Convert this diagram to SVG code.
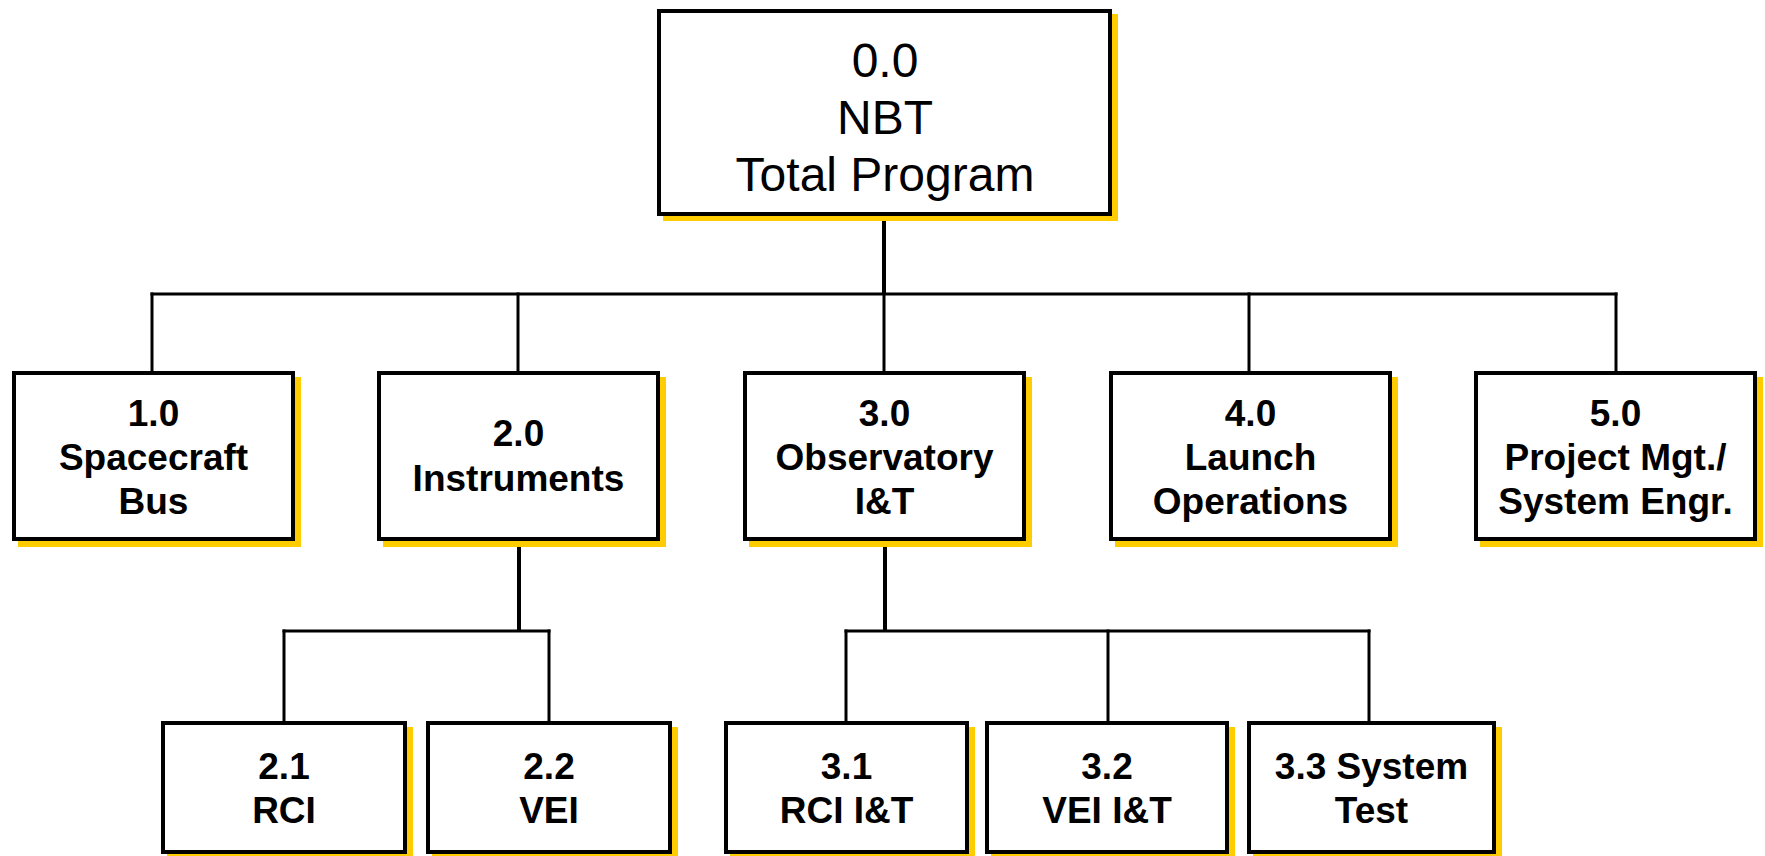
<svg xmlns="http://www.w3.org/2000/svg" width="1765" height="856" viewBox="0 0 1765 856">
<style>
.sh{fill:#FFCC00;stroke:none}
.bx{fill:#fff;stroke:#000;stroke-width:4}
.t0{font-family:"Liberation Sans",Arial,sans-serif;font-size:48px;text-anchor:middle;fill:#000}
.tb{font-family:"Liberation Sans",Arial,sans-serif;font-size:37px;font-weight:bold;text-anchor:middle;fill:#000}
.tc{font-family:"Liberation Sans",Arial,sans-serif;font-size:37px;font-weight:bold;text-anchor:middle;fill:#000}
.ln{stroke:#000;stroke-width:3;fill:none;stroke-linecap:square}
.lt{stroke:#000;stroke-width:4;fill:none}
</style>
<rect width="1765" height="856" fill="#fff"/>
<g id="connectors">
<line class="lt" x1="884" y1="216" x2="884" y2="294"/>
<line class="ln" x1="152" y1="294" x2="1616" y2="294"/>
<line class="ln" x1="152" y1="294" x2="152" y2="371"/>
<line class="ln" x1="518" y1="294" x2="518" y2="371"/>
<line class="ln" x1="884" y1="294" x2="884" y2="371"/>
<line class="ln" x1="1249" y1="294" x2="1249" y2="371"/>
<line class="ln" x1="1616" y1="294" x2="1616" y2="371"/>
<line class="lt" x1="519" y1="541" x2="519" y2="631"/>
<line class="ln" x1="284" y1="631" x2="549" y2="631"/>
<line class="ln" x1="284" y1="631" x2="284" y2="721"/>
<line class="ln" x1="549" y1="631" x2="549" y2="721"/>
<line class="lt" x1="885" y1="541" x2="885" y2="631"/>
<line class="ln" x1="846" y1="631" x2="1369" y2="631"/>
<line class="ln" x1="846" y1="631" x2="846" y2="721"/>
<line class="ln" x1="1108" y1="631" x2="1108" y2="721"/>
<line class="ln" x1="1369" y1="631" x2="1369" y2="721"/>
</g>
<g id="n0">
<rect class="sh" x="663" y="14" width="455" height="207"/>
<rect class="bx" x="659" y="11" width="451" height="203"/>
<text class="t0" x="885" y="77">0.0</text>
<text class="t0" x="885" y="134">NBT</text>
<text class="t0" x="885" y="191">Total Program</text>
</g>
<g id="n1">
<rect class="sh" x="18" y="377" width="283" height="170"/>
<rect class="bx" x="14" y="373" width="279" height="166"/>
<text class="tb" x="153.5" y="426">1.0</text>
<text class="tb" x="153.5" y="470">Spacecraft</text>
<text class="tb" x="153.5" y="514">Bus</text>
</g>
<g id="n2">
<rect class="sh" x="383" y="377" width="283" height="170"/>
<rect class="bx" x="379" y="373" width="279" height="166"/>
<text class="tb" x="518.5" y="446">2.0</text>
<text class="tb" x="518.5" y="491">Instruments</text>
</g>
<g id="n3">
<rect class="sh" x="749" y="377" width="283" height="170"/>
<rect class="bx" x="745" y="373" width="279" height="166"/>
<text class="tb" x="884.5" y="426">3.0</text>
<text class="tb" x="884.5" y="470">Observatory</text>
<text class="tb" x="884.5" y="514">I&amp;T</text>
</g>
<g id="n4">
<rect class="sh" x="1115" y="377" width="283" height="170"/>
<rect class="bx" x="1111" y="373" width="279" height="166"/>
<text class="tb" x="1250.5" y="426">4.0</text>
<text class="tb" x="1250.5" y="470">Launch</text>
<text class="tb" x="1250.5" y="514">Operations</text>
</g>
<g id="n5">
<rect class="sh" x="1480" y="377" width="283" height="170"/>
<rect class="bx" x="1476" y="373" width="279" height="166"/>
<text class="tb" x="1615.5" y="426">5.0</text>
<text class="tb" x="1615.5" y="470">Project Mgt./</text>
<text class="tb" x="1615.5" y="514">System Engr.</text>
</g>
<g id="n21">
<rect class="sh" x="167" y="727" width="246" height="133"/>
<rect class="bx" x="163" y="723" width="242" height="129"/>
<text class="tc" x="284" y="779">2.1</text>
<text class="tc" x="284" y="823">RCI</text>
</g>
<g id="n22">
<rect class="sh" x="432" y="727" width="246" height="133"/>
<rect class="bx" x="428" y="723" width="242" height="129"/>
<text class="tc" x="549" y="779">2.2</text>
<text class="tc" x="549" y="823">VEI</text>
</g>
<g id="n31">
<rect class="sh" x="730" y="727" width="245" height="133"/>
<rect class="bx" x="726" y="723" width="241" height="129"/>
<text class="tc" x="846.5" y="779">3.1</text>
<text class="tc" x="846.5" y="823">RCI I&amp;T</text>
</g>
<g id="n32">
<rect class="sh" x="991" y="727" width="244" height="133"/>
<rect class="bx" x="987" y="723" width="240" height="129"/>
<text class="tc" x="1107" y="779">3.2</text>
<text class="tc" x="1107" y="823">VEI I&amp;T</text>
</g>
<g id="n33">
<rect class="sh" x="1253" y="727" width="249" height="133"/>
<rect class="bx" x="1249" y="723" width="245" height="129"/>
<text class="tc" x="1371.5" y="779">3.3 System</text>
<text class="tc" x="1371.5" y="823">Test</text>
</g>
</svg>
